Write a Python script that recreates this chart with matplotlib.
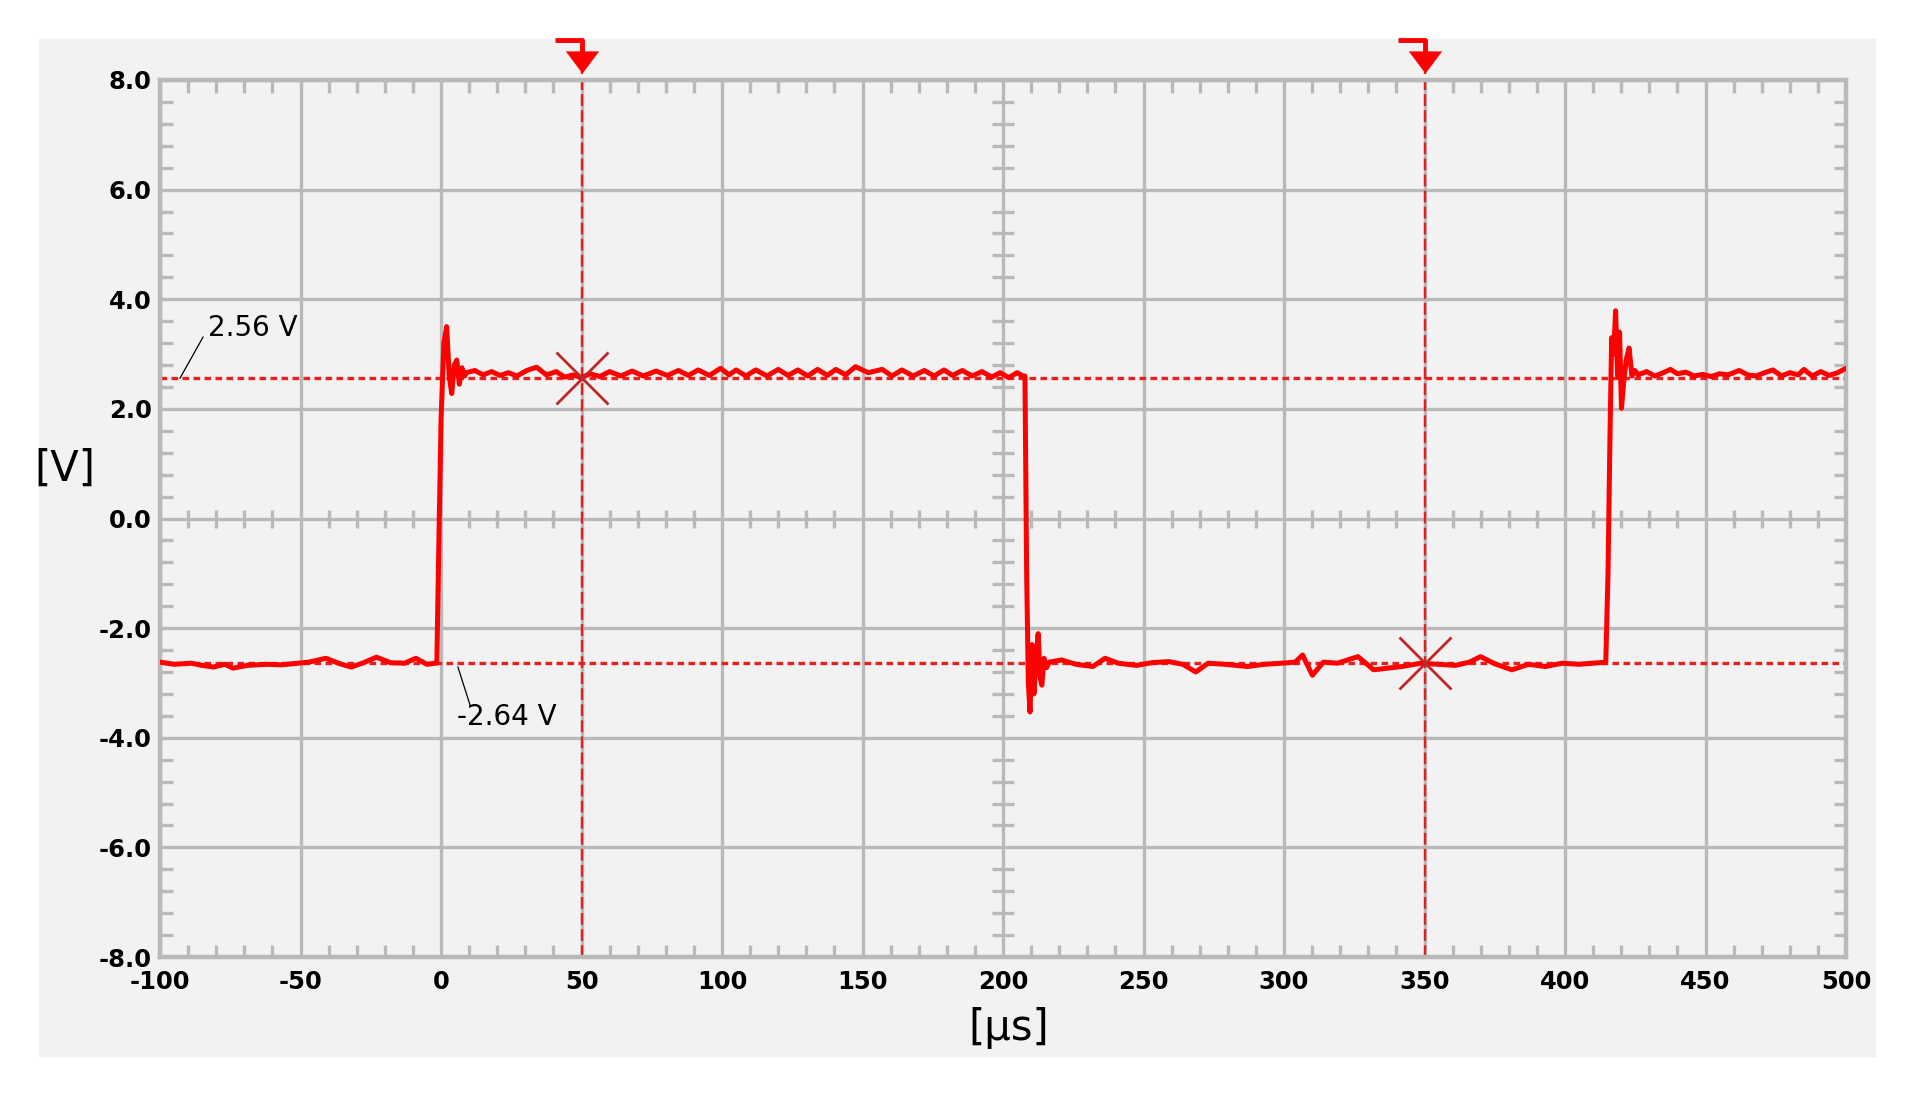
import matplotlib
matplotlib.use("Agg")
import matplotlib.pyplot as plt
import matplotlib.transforms as mtransforms
from matplotlib.patches import Rectangle
from matplotlib.ticker import MultipleLocator, FormatStrFormatter
import numpy as np

plt.rcParams['axes.unicode_minus'] = False
plt.rcParams['font.family'] = ['DejaVu Sans']

# ---- waveform (time in us, volts) ----
t_low1 = [-100, -95, -89, -85, -81, -77, -74, -69, -62, -57, -53, -47, -41, -36,
          -32, -28, -23, -18, -13, -9, -5, -2]
v_low1 = [-2.62, -2.66, -2.64, -2.68, -2.71, -2.66, -2.73, -2.68, -2.66, -2.67, -2.65,
          -2.62, -2.55, -2.65, -2.71, -2.64, -2.53, -2.63, -2.64, -2.55, -2.66, -2.64]

t_rise1 = [-1.5, -0.8, 0.0, 1.0, 2.0, 2.9, 3.8, 4.7, 5.6, 6.5, 7.4, 8.4]
v_rise1 = [-2.64, -0.5, 1.8, 3.2, 3.50, 2.6, 2.28, 2.8, 2.89, 2.45, 2.75, 2.6]

t_high1 = [9, 12, 15, 18, 21, 24, 27, 30.5, 34, 37.5, 41, 44, 47, 50, 53, 56.5, 60, 64,
           68, 72, 76.5, 80.5, 84.5, 88, 91.5, 95.5, 99.5, 102.5, 105, 108.5, 112, 116,
           120, 123.5, 127, 130.5, 134, 137.5, 140.5, 144, 147.5, 152, 157, 160.5, 164,
           168, 172, 175.5, 179, 182, 185.5, 189, 192.5, 196, 199, 202, 205, 207]
v_high1 = [2.66, 2.70, 2.62, 2.68, 2.61, 2.66, 2.60, 2.70, 2.76, 2.62, 2.68, 2.58, 2.62,
           2.57, 2.64, 2.59, 2.68, 2.60, 2.69, 2.60, 2.69, 2.61, 2.70, 2.61, 2.71, 2.61,
           2.74, 2.62, 2.71, 2.60, 2.71, 2.60, 2.72, 2.61, 2.71, 2.60, 2.72, 2.61, 2.72,
           2.62, 2.77, 2.66, 2.72, 2.60, 2.71, 2.60, 2.70, 2.60, 2.71, 2.61, 2.70, 2.60,
           2.68, 2.58, 2.66, 2.57, 2.66, 2.60]

t_fall = [207.8, 208.4, 209.0, 209.6, 210.3, 211.0, 211.8, 212.5, 213.2, 213.8, 214.6, 215.5]
v_fall = [2.60, -1.0, -3.0, -3.53, -2.3, -3.2, -2.5, -2.1, -2.9, -3.04, -2.55, -2.72]

t_low2 = [216.5, 220.8, 226, 232, 236.3, 241, 247.5, 253, 259, 264, 268.6, 273, 279, 287,
          293, 299, 304, 306.6, 310.1, 314, 319, 326.3, 331.9, 337, 342, 348.8, 355, 361,
          366, 369.9, 375, 381.1, 387, 393, 399, 405, 410, 414.5]
v_low2 = [-2.62, -2.58, -2.66, -2.70, -2.55, -2.64, -2.68, -2.63, -2.61, -2.66, -2.80,
          -2.64, -2.66, -2.70, -2.66, -2.64, -2.62, -2.49, -2.86, -2.62, -2.64, -2.52,
          -2.76, -2.73, -2.70, -2.64, -2.66, -2.68, -2.62, -2.52, -2.65, -2.76, -2.66,
          -2.70, -2.64, -2.66, -2.64, -2.62]

t_rise2 = [415.3, 416.0, 416.6, 417.3, 418.0, 418.7, 419.4, 420.1, 420.9, 421.8, 422.8,
           423.8, 424.9]
v_rise2 = [-1.0, 1.5, 3.3, 3.0, 3.79, 2.6, 3.4, 2.01, 2.5, 2.9, 3.11, 2.6, 2.70]

t_high2 = [426, 429, 432, 435, 437.5, 440, 443, 446, 449, 452, 455, 458, 462, 465, 468,
           471, 474, 477, 480, 483, 485, 488, 491, 494, 497, 500]
v_high2 = [2.62, 2.68, 2.60, 2.66, 2.72, 2.64, 2.67, 2.60, 2.63, 2.59, 2.64, 2.62, 2.70,
           2.62, 2.60, 2.66, 2.71, 2.60, 2.66, 2.62, 2.72, 2.60, 2.68, 2.61, 2.66, 2.74]

# cursors
cursor_t = [50, 350]
cursor_v = [2.56, -2.64]
level_labels = ["2.56 V", "-2.64 V"]

x_ticks = list(range(-100, 501, 50))
y_ticks = [-8, -6, -4, -2, 0, 2, 4, 6, 8]

t_all = t_low1 + t_rise1 + t_high1 + t_fall + t_low2 + t_rise2 + t_high2
v_all = v_low1 + v_rise1 + v_high1 + v_fall + v_low2 + v_rise2 + v_high2

grid_c = '#b9b9b9'
bg_c = '#f2f2f2'
red = '#ff0000'

fig = plt.figure(figsize=(19.1, 10.94), dpi=100)
fig.patch.set_facecolor('white')
fig.patches.append(Rectangle((0.0204, 0.0338), 0.9618, 0.9305, transform=fig.transFigure,
                             facecolor=bg_c, edgecolor='none', zorder=-10))

ax = fig.add_axes([0.0838, 0.1252, 0.8827, 0.8017])
ax.set_zorder(2)
ax.set_facecolor(bg_c)
ax.set_xlim(-100, 500)
ax.set_ylim(-8, 8)
ax.set_xticks(x_ticks)
ax.set_yticks(y_ticks)
ax.xaxis.set_minor_locator(MultipleLocator(10))
ax.yaxis.set_minor_locator(MultipleLocator(0.4))
ax.yaxis.set_major_formatter(FormatStrFormatter('%.1f'))
ax.grid(True, which='major', color=grid_c, lw=2.4, zorder=0)
ax.set_axisbelow(True)
ax.tick_params(which='major', length=0, labelsize=17.5)
ax.tick_params(axis='x', which='major', pad=9)
ax.tick_params(axis='y', which='major', pad=6)
ax.tick_params(which='minor', direction='in', length=9, width=2.4, color=grid_c,
               top=True, right=True)
for lab in ax.get_xticklabels() + ax.get_yticklabels():
    lab.set_fontweight('bold')
# y labels sit a little above their gridline in the original
for lab in ax.get_yticklabels():
    lab.set_verticalalignment('center_baseline')
for sp in ax.spines.values():
    sp.set_color(grid_c)
    sp.set_linewidth(3.2)

# crosshair ticks on the centre lines
cx = [x for x in range(-100, 501, 10) if x % 50 != 0]
ax.plot(cx, [0] * len(cx), ls='none', marker='|', ms=13, mew=2.4, color=grid_c, zorder=1)
cy = [y for y in np.arange(-8, 8.01, 0.4) if abs(y / 2 - round(y / 2)) > 1e-6]
ax.plot([200] * len(cy), cy, ls='none', marker='_', ms=16, mew=2.4, color=grid_c, zorder=1)

# level lines
for v in cursor_v:
    ax.axhline(v, color='#e82020', lw=2.4, dashes=(2.0, 1.3), zorder=2)

# cursor lines + flags
trans = mtransforms.blended_transform_factory(ax.transData, ax.transAxes)
tri = [(-1.5, 1), (1.5, 1), (0, -1)]
for t in cursor_t:
    ax.plot([t, t], [0, 1.012], transform=trans, color='#e02020', lw=1.7,
            dashes=(5, 1.8), clip_on=False, zorder=2)
    ax.plot([t - 9.3, t, t], [1.0456, 1.0456, 1.03], transform=trans, color=red,
            lw=3.5, clip_on=False, solid_capstyle='butt', zorder=4)
    ax.plot([t], [1.021], transform=trans, marker=tri, ms=24, color=red, mew=0,
            clip_on=False, zorder=4)

# waveform
ax.plot(t_all, v_all, color=red, lw=3.6, zorder=3, solid_joinstyle='round')

# cursor crosses
ax.plot(cursor_t, cursor_v, ls='none', marker='x', ms=37, mew=2.0, color='#c02828', zorder=5)

# level annotations
ax.plot([-92.9, -84.7], [2.56, 3.31], color='black', lw=0.9, zorder=5)
ax.text(-83, 3.48, level_labels[0], fontsize=20, va='center', ha='left', zorder=5)
ax.plot([6.0, 10.3], [-2.71, -3.40], color='black', lw=0.9, zorder=5)
ax.text(5.7, -3.62, level_labels[1], fontsize=20, va='center', ha='left', zorder=5)

fig.text(65 / 1910, 1 - 469 / 1094, "[V]", fontsize=30, ha='center', va='center')
fig.text(1009 / 1910, 1 - 1028 / 1094, "[\u00b5s]", fontsize=30, ha='center', va='center')

fig.savefig("out.png", dpi=100, facecolor='white')
